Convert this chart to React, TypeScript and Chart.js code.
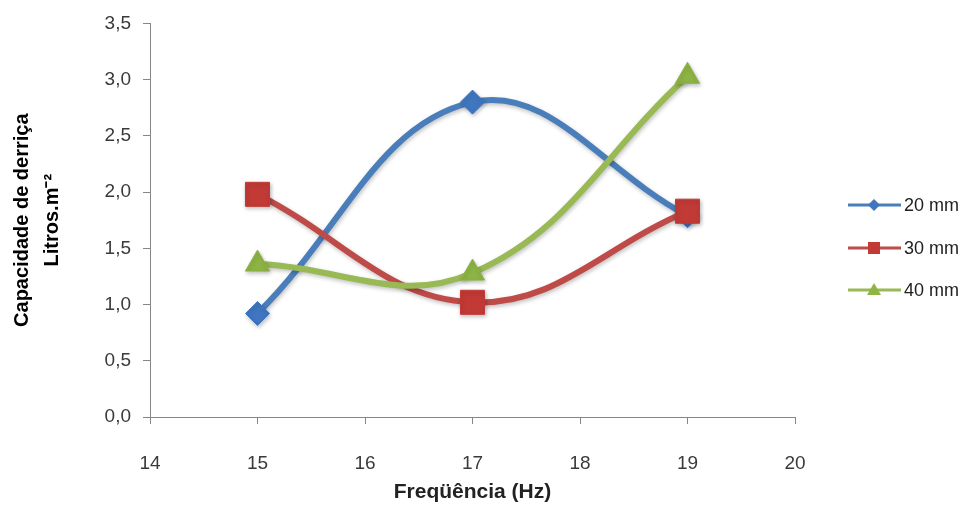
import React, { useEffect, useRef } from "react";
import { Chart, registerables } from "chart.js";

Chart.register(...registerables);

const frequencies = [15, 17, 19];
const series20mm = [0.92, 2.8, 1.79];
const series30mm = [1.98, 1.02, 1.83];
const series40mm = [1.36, 1.28, 3.03];
const seriesLabels = ["20 mm", "30 mm", "40 mm"];
const lineColors = ["#4A7EBB", "#BE4B48", "#98B954"];
const markerColors = ["#3F76BF", "#C23A36", "#8DB444"];
const seriesMarkers = ["rectRot", "rect", "triangle"];
const markerRadius = [12, 17, 14];
const xTicks = [14, 15, 16, 17, 18, 19, 20];
const yTitle = ["Capacidade de derriça", "Litros.m\u207B\u00B2"];
const xTitle = "Freqüência (Hz)";

const tickFont = "'Liberation Sans', Arial, sans-serif";

const legendPlugin = {
  id: "customLegend",
  afterDraw(chart: any) {
    const ctx = chart.ctx;
    const ys = [205, 248, 290];
    ctx.save();
    seriesLabels.forEach((label, i) => {
      const y = ys[i];
      ctx.strokeStyle = lineColors[i];
      ctx.lineWidth = 3;
      ctx.beginPath();
      ctx.moveTo(848, y);
      ctx.lineTo(901, y);
      ctx.stroke();
      ctx.fillStyle = markerColors[i];
      ctx.beginPath();
      const cx = 874;
      if (i === 0) {
        ctx.moveTo(cx, y - 6);
        ctx.lineTo(cx + 6, y);
        ctx.lineTo(cx, y + 6);
        ctx.lineTo(cx - 6, y);
      } else if (i === 1) {
        ctx.rect(cx - 6, y - 6, 12, 12);
      } else {
        ctx.moveTo(cx, y - 7);
        ctx.lineTo(cx + 7, y + 5);
        ctx.lineTo(cx - 7, y + 5);
      }
      ctx.closePath();
      ctx.fill();
      ctx.fillStyle = "#222";
      ctx.font = "18px " + tickFont;
      ctx.textBaseline = "middle";
      ctx.textAlign = "left";
      ctx.fillText(label, 904, y + 1);
    });
    ctx.restore();
  },
};

const shadowPlugin = {
  id: "markerShadow",
  beforeDatasetDraw(chart: any) {
    const ctx = chart.ctx;
    ctx.save();
    ctx.shadowColor = "rgba(0,0,0,0.25)";
    ctx.shadowBlur = 4;
    ctx.shadowOffsetX = 1;
    ctx.shadowOffsetY = 2;
  },
  afterDatasetDraw(chart: any) {
    chart.ctx.restore();
  },
};

export default function App() {
  const ref = useRef<HTMLCanvasElement>(null);
  useEffect(() => {
    document.body.style.margin = "0";
    const allSeries = [series20mm, series30mm, series40mm];
    const chart = new Chart(ref.current!, {
      type: "line",
      data: {
        datasets: allSeries.map((s, i) => ({
          label: seriesLabels[i],
          data: frequencies.map((f, j) => ({ x: f, y: s[j] })),
          borderColor: lineColors[i],
          backgroundColor: markerColors[i],
          borderWidth: 6,
          pointStyle: seriesMarkers[i] as any,
          pointRadius: markerRadius[i],
          pointBorderWidth: 1,
          pointBackgroundColor: markerColors[i],
          pointBorderColor: markerColors[i],
          tension: 0.4,
          order: 3 - i,
          fill: false,
        })),
      },
      options: {
        responsive: false,
        animation: false,
        events: [],
        layout: { padding: { top: 10, right: 174, left: 0, bottom: 0 } },
        plugins: { legend: { display: false }, tooltip: { enabled: false } },
        scales: {
          x: {
            type: "linear",
            min: 14,
            max: 20,
            afterBuildTicks: (scale: any) => {
              scale.ticks = xTicks.map((v) => ({ value: v }));
            },
            afterFit: (scale: any) => {
              scale.height = 92;
            },
            grid: { drawOnChartArea: false, drawTicks: true, tickLength: 7, color: "#868686" },
            border: { color: "#868686", width: 1 },
            ticks: {
              padding: 28,
              color: "#3a3a3a",
              font: { family: tickFont, size: 19 },
              maxRotation: 0,
            },
            title: {
              display: true,
              text: xTitle,
              color: "#222",
              font: { family: tickFont, size: 21, weight: "bold" },
              padding: { top: 0, bottom: 4 },
            },
          },
          y: {
            min: 0,
            max: 3.5,
            afterFit: (scale: any) => {
              scale.width = 150;
            },
            grid: { drawOnChartArea: false, drawTicks: true, tickLength: 7, color: "#868686" },
            border: { color: "#868686", width: 1 },
            ticks: {
              stepSize: 0.5,
              padding: 12,
              color: "#3a3a3a",
              font: { family: tickFont, size: 19 },
              callback: (v: any) => Number(v).toFixed(1).replace(".", ","),
            },
            title: {
              display: true,
              text: yTitle,
              color: "#000",
              font: { family: tickFont, size: 20, weight: "bold", lineHeight: 1.5 },
              padding: { top: 7, bottom: 0 },
            },
          },
        },
      },
      plugins: [shadowPlugin, legendPlugin],
    });
    return () => chart.destroy();
  }, []);
  return (
    <div style={{ width: 969, height: 509, background: "#fff" }}>
      <canvas ref={ref} width={969} height={509} />
    </div>
  );
}
